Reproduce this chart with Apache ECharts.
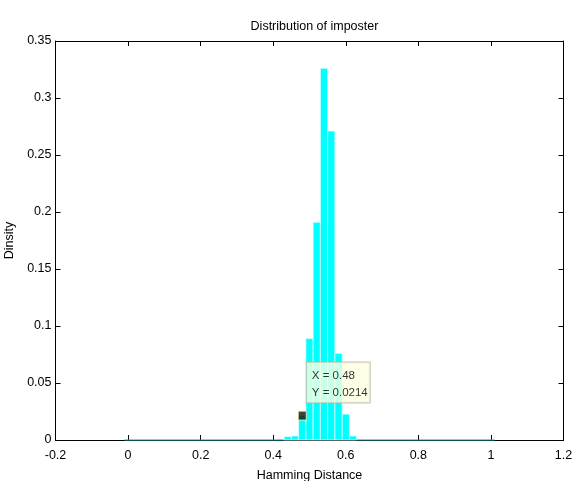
<!DOCTYPE html>
<html>
<head>
<meta charset="utf-8">
<script src="https://cdn.jsdelivr.net/npm/echarts@6/dist/echarts.min.js"></script>
<style>
html,body{margin:0;padding:0;background:#fff;}
#chart{width:574px;height:481px;}
</style>
</head>
<body>
<div id="chart"></div>
<script>
// Histogram bin centers (Hamming distance)
var binCenters = [0.00,0.02,0.04,0.06,0.08,0.10,0.12,0.14,0.16,0.18,
                  0.20,0.22,0.24,0.26,0.28,0.30,0.32,0.34,0.36,0.38,
                  0.40,0.42,0.44,0.46,0.48,0.50,0.52,0.54,0.56,0.58,
                  0.60,0.62,0.64,0.66,0.68,0.70,0.72,0.74,0.76,0.78,
                  0.80,0.82,0.84,0.86,0.88,0.90,0.92,0.94,0.96,0.98,1.00];
// Density per bin
var density = [0,0,0,0,0,0,0,0,0,0,
               0,0,0,0,0,0,0,0,0,0,
               0,0,0.003,0.0035,0.0214,0.089,0.191,0.326,0.271,0.076,
               0.0227,0.0035,0,0,0,0,0,0,0,0,
               0,0,0,0,0,0,0,0,0,0,0];
var binWidth = 0.02;
var xTicks = ['-0.2','0','0.2','0.4','0.6','0.8','1','1.2'];
var yTicks = ['0','0.05','0.1','0.15','0.2','0.25','0.3','0.35'];
var tipX = 0.48, tipY = 0.0214;

var FONT = "'Liberation Sans',Arial,sans-serif";

var data = binCenters.map(function(c,i){return [c, density[i]];});

var chart = echarts.init(document.getElementById('chart'));
var axisLineStyle = {show:true, onZero:false, lineStyle:{color:'#000',width:1}};
var tickStyle = {show:true,inside:true,length:5,lineStyle:{color:'#000'}};
var xLabelFmt = function(v){ var idx = Math.round((v+0.2)/0.2); return xTicks[idx]; };
var yLabelFmt = function(v){ var idx = Math.round(v/0.05); return yTicks[idx]; };

chart.setOption({
  backgroundColor:'#fff',
  animation:false,
  title:{
    text:'Distribution of imposter',
    left:309.5, top:15, textAlign:'center',
    textStyle:{fontFamily:FONT,fontSize:12.5,fontWeight:'normal',color:'#000'}
  },
  grid:{left:55.5,right:10.5,top:41,bottom:41,containLabel:false,outerBoundsMode:'none'},
  xAxis:[{
    type:'value', position:'bottom', min:-0.2, max:1.2, interval:0.2,
    name:'Hamming Distance', nameLocation:'middle', nameGap:29,
    nameTextStyle:{fontFamily:FONT,fontSize:12.5,color:'#000'},
    axisLine:axisLineStyle,
    axisTick:tickStyle,
    axisLabel:{formatter:xLabelFmt,fontFamily:FONT,fontSize:12.5,color:'#000',margin:9},
    splitLine:{show:false}
  },{
    type:'value', position:'top', min:-0.2, max:1.2, interval:0.2,
    axisLine:axisLineStyle,
    axisTick:tickStyle,
    axisLabel:{show:false}, splitLine:{show:false}
  }],
  yAxis:[{
    type:'value', position:'left', min:0, max:0.35, interval:0.05,
    name:'Dinsity', nameLocation:'middle', nameGap:34, nameRotate:90,
    nameTextStyle:{fontFamily:FONT,fontSize:12.5,color:'#000'},
    axisLine:axisLineStyle,
    axisTick:tickStyle,
    axisLabel:{formatter:yLabelFmt,fontFamily:FONT,fontSize:12.5,color:'#000',margin:4},
    splitLine:{show:false}
  },{
    type:'value', position:'right', min:0, max:0.35, interval:0.05,
    axisLine:axisLineStyle,
    axisTick:tickStyle,
    axisLabel:{show:false}, splitLine:{show:false}
  }],
  series:[{
    type:'custom',
    xAxisIndex:0, yAxisIndex:0,
    data:data,
    z:3,
    renderItem:function(params, api){
      var c = api.value(0), v = api.value(1);
      var p0 = api.coord([c - binWidth/2, v]);
      var p1 = api.coord([c + binWidth/2, 0]);
      if (v === 0) {
        return {type:'line', shape:{x1:p0[0], y1:p1[1], x2:p1[0], y2:p1[1]},
                style:{stroke:'#1e9a9a', lineWidth:1}};
      }
      return {type:'rect',
              shape:{x:p0[0], y:p0[1], width:p1[0]-p0[0], height:p1[1]-p0[1]},
              style:{fill:'#00ffff', stroke:'#d6ffff', lineWidth:0.8}};
    }
  },{
    type:'scatter',
    xAxisIndex:0, yAxisIndex:0,
    z:5,
    data:[[tipX, tipY]],
    symbol:'rect', symbolSize:[8,9],
    itemStyle:{color:'#111', borderColor:'#f5f0b0', borderWidth:1},
    label:{
      show:true,
      position:[9,-48],
      align:'left', verticalAlign:'top',
      formatter:function(){ return 'X = ' + tipX + '\nY = ' + tipY; },
      fontFamily:FONT, fontSize:11.5, lineHeight:17, color:'#000',
      backgroundColor:'#ffffe1', borderColor:'#b4b4a0', borderWidth:1,
      padding:[5,2,1,5]
    }
  }]
});
</script>
</body>
</html>
